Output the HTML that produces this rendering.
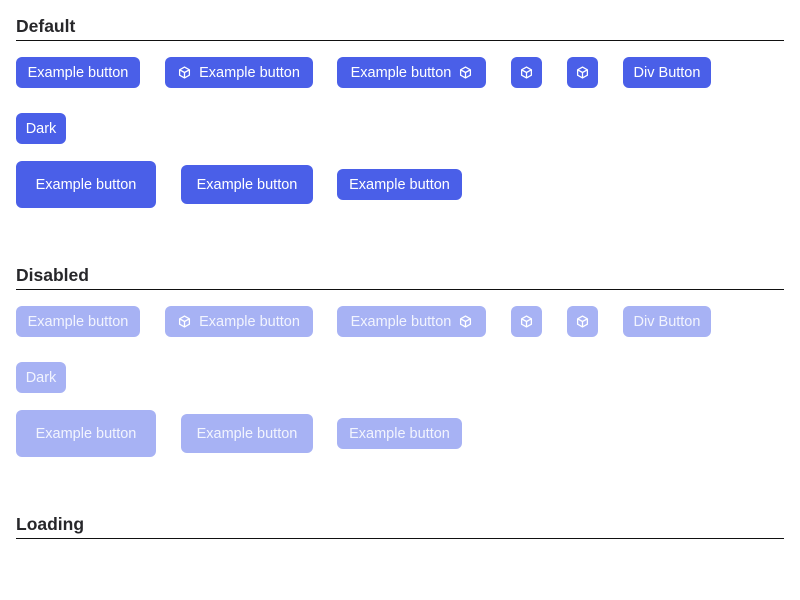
<!DOCTYPE html>
<html><head><style>
body{margin:0;width:800px;height:600px;background:#fff;position:relative;font-family:"Liberation Sans",sans-serif;overflow:hidden}
.h{position:absolute;left:16px;width:768px;font-weight:bold;font-size:17.5px;color:#27272a;border-bottom:1px solid #111;height:24px;line-height:20px}
.b{position:absolute;background:#4a5fe8;color:#fff;border-radius:6px;font-size:14.5px;display:flex;align-items:center;justify-content:center;white-space:nowrap}
.d .b{background:#a7b2f4;color:#f2f4fe}
svg{width:13px;height:13px}
</style></head><body>
<svg style="display:none"><symbol id="c" viewBox="0 0 24 24"><g fill="none" stroke="#fff" stroke-width="2.4" stroke-linejoin="round"><path d="M12 2 21 7v10l-9 5-9-5V7z"/><path d="M3 7l9 5 9-5M12 12v10"/></g></symbol></svg>
<div class="s">
<div class="h" style="top:16px">Default</div>
<div class="b" style="left:16px;top:57px;width:124px;height:31px">Example button</div>
<div class="b" style="left:165px;top:57px;width:148px;height:31px"><svg><use href="#c"/></svg>&nbsp;&nbsp;Example button</div>
<div class="b" style="left:337px;top:57px;width:149px;height:31px">Example button&nbsp;&nbsp;<svg><use href="#c"/></svg></div>
<div class="b" style="left:511px;top:57px;width:31px;height:31px"><svg><use href="#c"/></svg></div>
<div class="b" style="left:567px;top:57px;width:31px;height:31px"><svg><use href="#c"/></svg></div>
<div class="b" style="left:623px;top:57px;width:88px;height:31px">Div Button</div>
<div class="b" style="left:16px;top:113px;width:50px;height:31px">Dark</div>
<div class="b" style="left:16px;top:161px;width:140px;height:47px">Example button</div>
<div class="b" style="left:181px;top:165px;width:132px;height:39px">Example button</div>
<div class="b" style="left:337px;top:169px;width:125px;height:31px">Example button</div>
</div>
<div class="d" style="position:absolute;left:0;top:249px;width:800px;height:300px">
<div class="h" style="top:16px">Disabled</div>
<div class="b" style="left:16px;top:57px;width:124px;height:31px">Example button</div>
<div class="b" style="left:165px;top:57px;width:148px;height:31px"><svg><use href="#c"/></svg>&nbsp;&nbsp;Example button</div>
<div class="b" style="left:337px;top:57px;width:149px;height:31px">Example button&nbsp;&nbsp;<svg><use href="#c"/></svg></div>
<div class="b" style="left:511px;top:57px;width:31px;height:31px"><svg><use href="#c"/></svg></div>
<div class="b" style="left:567px;top:57px;width:31px;height:31px"><svg><use href="#c"/></svg></div>
<div class="b" style="left:623px;top:57px;width:88px;height:31px">Div Button</div>
<div class="b" style="left:16px;top:113px;width:50px;height:31px">Dark</div>
<div class="b" style="left:16px;top:161px;width:140px;height:47px">Example button</div>
<div class="b" style="left:181px;top:165px;width:132px;height:39px">Example button</div>
<div class="b" style="left:337px;top:169px;width:125px;height:31px">Example button</div>
</div>
<div class="h" style="top:514px">Loading</div>
</body></html>
